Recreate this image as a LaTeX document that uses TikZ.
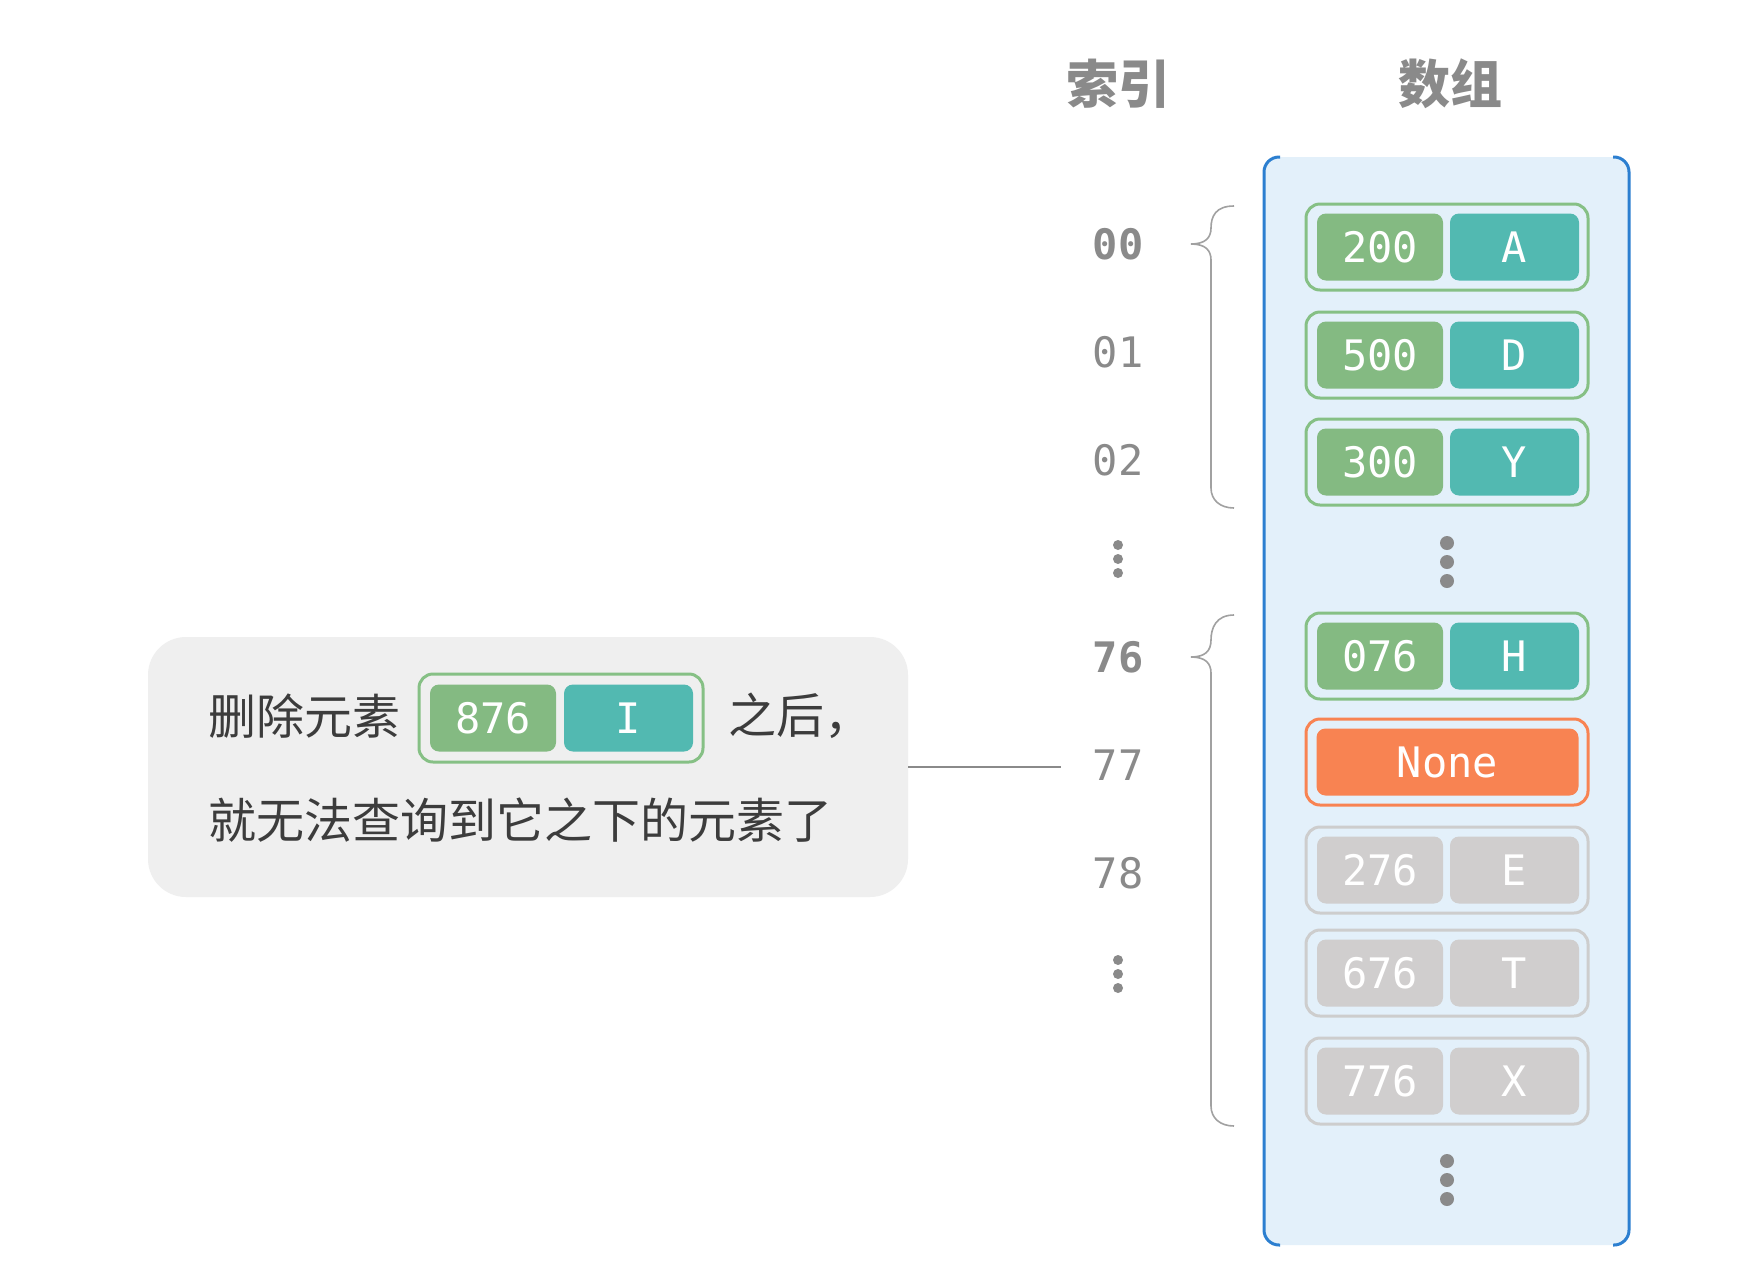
\documentclass[tikz,border=0pt]{standalone}
\usepackage{fontspec}
\newfontfamily\cjk{Noto Sans CJK SC}
\newfontfamily\mono{DejaVu Sans Mono}
\definecolor{cgreen}{HTML}{84BA82}
\definecolor{cteal}{HTML}{52B9B1}
\definecolor{cgreenline}{HTML}{86C085}
\definecolor{cgray}{HTML}{D0CECE}
\definecolor{cgrayline}{HTML}{CDCDCD}
\definecolor{corange}{HTML}{F88352}
\definecolor{bluefill}{HTML}{E3F0FA}
\definecolor{blueline}{HTML}{2C7FD0}
\definecolor{boxgray}{HTML}{EFEFEF}
\definecolor{txtgray}{HTML}{8A8A8A}
\definecolor{txtdark}{HTML}{3C3C3C}
\tikzset{
  cellbase/.style={rounded corners=9pt, minimum height=67pt, inner sep=0pt, text=white, font=\mono\fontsize{42}{50}\selectfont},
  gcell/.style={cellbase, fill=cgreen, minimum width=126pt},
  tcell/.style={cellbase, fill=cteal, minimum width=129pt},
  gycell/.style={cellbase, fill=cgray, minimum width=126pt},
  gytcell/.style={cellbase, fill=cgray, minimum width=129pt},
  outerbox/.style={line width=3pt, rounded corners=14pt, minimum width=282pt, minimum height=86pt, inner sep=0pt, fill=bluefill},
  idx/.style={text=txtgray, font=\mono\fontsize{42}{50}\selectfont, inner sep=0pt},
  idxb/.style={idx, font=\mono\bfseries\fontsize{42}{50}\selectfont},
  head/.style={text=txtgray, font=\cjk\bfseries\fontsize{52}{62}\selectfont, inner sep=0pt},
  body/.style={text=txtdark, font=\cjk\fontsize{48}{58}\selectfont, inner sep=0pt},
  bracepath/.style={draw=txtgray!80, line width=1.6pt},
}
\begin{document}
\begin{tikzpicture}[x=1pt,y=-1pt]
\useasboundingbox (0,0) rectangle (1762,1286);
\fill[white] (0,0) rectangle (1762,1286);

% headers
\node[head] (hidx) at (1118,84) {索引};
\node[head] (harr) at (1450,84) {数组};

% array container
\fill[bluefill, rounded corners=15pt] (1264,157) rectangle (1629,1245);
\draw[blueline, line width=3pt, rounded corners=15pt] (1280,157) -- (1264,157) -- (1264,1245) -- (1280,1245);
\draw[blueline, line width=3pt, rounded corners=15pt] (1613,157) -- (1629,157) -- (1629,1245) -- (1613,1245);

% rows
\foreach \n/\y/\a/\b in {r1/247/200/A, r2/355/500/D, r3/462/300/Y, r4/656/076/H}{
  \node[outerbox, draw=cgreenline] (\n) at (1447,\y) {};
  \node[gcell] (\n a) at (1380,\y) {\a};
  \node[tcell] (\n b) at (1514.5,\y) {\b};
}
\node[outerbox, draw=corange] (r5) at (1447,762) {};
\node[cellbase, fill=corange, minimum width=262pt] (r5a) at (1447.5,762) {None};
\foreach \n/\y/\a/\b in {r6/870/276/E, r7/973/676/T, r8/1081/776/X}{
  \node[outerbox, draw=cgrayline] (\n) at (1447,\y) {};
  \node[gycell] (\n a) at (1380,\y) {\a};
  \node[gytcell] (\n b) at (1514.5,\y) {\b};
}

% array dots
\foreach \y in {543,562,581}{ \fill[txtgray] (1447,\y) circle (7pt); }
\foreach \y in {1161,1180,1199}{ \fill[txtgray] (1447,\y) circle (7pt); }

% index labels
\node[idxb] (i00) at (1118,244) {00};
\node[idx] (i01) at (1118,352) {01};
\node[idx] (i02) at (1118,460) {02};
\node[idxb] (i76) at (1118,657) {76};
\node[idx] (i77) at (1118,765) {77};
\node[idx] (i78) at (1118,873) {78};
\foreach \y in {545,559,573}{ \fill[txtgray] (1118,\y) circle (5pt); }
\foreach \y in {960,974,988}{ \fill[txtgray] (1118,\y) circle (5pt); }

% braces
\draw[bracepath] (1234,206) .. controls (1216,206) and (1211,216) .. (1211,228)
  .. controls (1211,238) and (1205,244) .. (1191,244)
  .. controls (1205,244) and (1211,250) .. (1211,260)
  -- (1211,488) .. controls (1211,500) and (1220,508) .. (1234,508);
\draw[bracepath] (1234,615) .. controls (1216,615) and (1211,628) .. (1211,640)
  .. controls (1211,651) and (1205,657) .. (1191,657)
  .. controls (1205,657) and (1211,663) .. (1211,673)
  -- (1211,1106) .. controls (1211,1118) and (1220,1126) .. (1234,1126);

% callout box
\node[fill=boxgray, rounded corners=38pt, minimum width=760pt, minimum height=260pt, inner sep=0pt] (note) at (528,767) {};
\node[body, anchor=west] (t1) at (208,716) {删除元素};
\node[outerbox, draw=cgreenline, fill=boxgray, minimum width=284pt, minimum height=88pt] (m) at (561,718) {};
\node[gcell] (ma) at (493,718) {876};
\node[tcell] (mb) at (628.5,718) {I};
\node[body, anchor=west] (t2) at (728,716) {之后，};
\node[body, anchor=west] (t3) at (208,820) {就无法查询到它之下的元素了};

% connector
\coordinate (lend) at (1061,767);
\draw[txtgray, line width=1.6pt] (note.east) -- (lend);
\end{tikzpicture}
\end{document}
